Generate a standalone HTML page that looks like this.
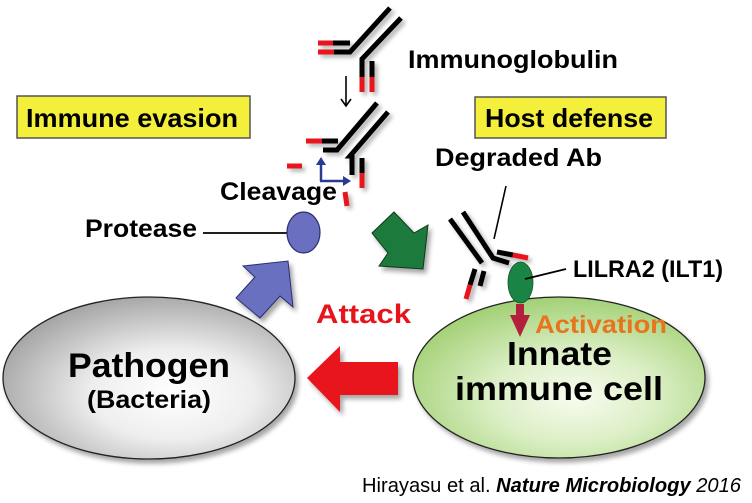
<!DOCTYPE html>
<html><head><meta charset="utf-8"><style>
html,body{margin:0;padding:0;background:#fff;width:752px;height:503px;overflow:hidden}
svg{display:block}
text{font-family:"Liberation Sans",Arial,sans-serif;font-weight:bold;fill:#000}
</style></head>
<body>
<svg width="752" height="503" viewBox="0 0 752 503" xmlns="http://www.w3.org/2000/svg">
<defs>
<filter id="sh" x="-20%" y="-20%" width="150%" height="150%"><feDropShadow dx="3" dy="4" stdDeviation="2.5" flood-color="#000" flood-opacity="0.35"/></filter>
<filter id="sh2" x="-30%" y="-30%" width="180%" height="180%"><feDropShadow dx="3" dy="3" stdDeviation="2" flood-color="#000" flood-opacity="0.3"/></filter>
<radialGradient id="gp" cx="0.58" cy="0.6" r="0.62"><stop offset="0" stop-color="#ffffff"/><stop offset="0.45" stop-color="#eeeeee"/><stop offset="1" stop-color="#a6a6a6"/></radialGradient>
<radialGradient id="gi" cx="0.55" cy="0.62" r="0.62"><stop offset="0" stop-color="#f8fcf0"/><stop offset="0.45" stop-color="#dcefc6"/><stop offset="1" stop-color="#a3d176"/></radialGradient>
</defs>

<!-- Boxes -->
<rect x="17" y="96" width="233" height="42" fill="#f3ef3b" stroke="#555" stroke-width="1.5"/>
<text x="26" y="127" font-size="26" textLength="212" lengthAdjust="spacingAndGlyphs">Immune evasion</text>
<rect x="475" y="97" width="191" height="41" fill="#f3ef3b" stroke="#555" stroke-width="1.5"/>
<text x="485" y="127" font-size="26" textLength="168" lengthAdjust="spacingAndGlyphs">Host defense</text>

<!-- Top antibody -->
<g filter="url(#sh2)" stroke-width="5" fill="none" stroke-linecap="butt">
  <line x1="318" y1="43" x2="333" y2="43" stroke="#e8141c"/>
  <line x1="333" y1="43" x2="350" y2="43" stroke="#000"/>
  <line x1="318" y1="52" x2="334" y2="52" stroke="#e8141c"/>
  <polyline points="334,52 350,52 390,8" stroke="#000"/>
  <polyline points="401,18 362,59 362,77" stroke="#000"/>
  <line x1="362" y1="77" x2="362" y2="92" stroke="#e8141c"/>
  <line x1="372" y1="61" x2="372" y2="77" stroke="#000"/>
  <line x1="372" y1="77" x2="372" y2="92" stroke="#e8141c"/>
</g>
<text x="408" y="68" font-size="25" textLength="210" lengthAdjust="spacingAndGlyphs">Immunoglobulin</text>

<!-- down arrow -->
<line x1="346" y1="76" x2="346" y2="105" stroke="#000" stroke-width="1.6"/>
<polyline points="341,99 346,106 351,99" fill="none" stroke="#000" stroke-width="1.6"/>

<!-- Cleaved antibody -->
<g filter="url(#sh2)" stroke-width="5" fill="none">
  <line x1="306" y1="141" x2="322" y2="141" stroke="#e8141c"/>
  <line x1="322" y1="141" x2="338" y2="141" stroke="#000"/>
  <polyline points="323,150 337,150 377,103" stroke="#000"/>
  <polyline points="388,112 350,156 352,156 352,175" stroke="#000"/>
  <line x1="362" y1="158" x2="362" y2="173" stroke="#000"/>
  <line x1="362" y1="173" x2="362" y2="188" stroke="#e8141c"/>
  <line x1="287" y1="166" x2="302" y2="166" stroke="#e8141c"/>
  <line x1="345" y1="192" x2="347" y2="206" stroke="#e8141c"/>
</g>
<!-- blue L arrows -->
<g stroke="#2b3990" stroke-width="2.5" fill="none">
  <line x1="321" y1="181" x2="321" y2="164"/>
  <line x1="320" y1="181" x2="344" y2="181"/>
</g>
<polygon points="316,165 326,165 321,157" fill="#2b3990"/>
<polygon points="343,176 343,186 351,181" fill="#2b3990"/>

<text x="220" y="200" font-size="25" textLength="117" lengthAdjust="spacingAndGlyphs">Cleavage</text>
<text x="85" y="237" font-size="25" textLength="112" lengthAdjust="spacingAndGlyphs">Protease</text>
<line x1="203" y1="233" x2="287" y2="233" stroke="#000" stroke-width="1.8"/>
<ellipse cx="303.5" cy="232.5" rx="16.5" ry="20.5" fill="#6a6fc0" stroke="#2a2e70" stroke-width="1.2"/>

<!-- Degraded Ab -->
<text x="435" y="166" font-size="25" textLength="167" lengthAdjust="spacingAndGlyphs">Degraded Ab</text>
<line x1="506" y1="186" x2="494" y2="239" stroke="#000" stroke-width="1.6"/>
<g filter="url(#sh2)" stroke-width="5" fill="none">
  <line x1="450" y1="219" x2="482" y2="263" stroke="#000"/>
  <polyline points="463,212 493,258 509,263" stroke="#000"/>
  <line x1="497" y1="252" x2="513" y2="255" stroke="#000"/>
  <line x1="513" y1="255" x2="528" y2="258" stroke="#e8141c"/>
  <line x1="475" y1="269" x2="470" y2="285" stroke="#000"/>
  <line x1="470" y1="285" x2="466" y2="299" stroke="#e8141c"/>
  <line x1="484" y1="271" x2="480" y2="286" stroke="#000"/>
</g>

<!-- arrows -->
<polygon points="243,266 288,261 293,307 280,296 260,318 236,298 255,277" fill="#6a6fc0" stroke="#2a2e70" stroke-width="1" filter="url(#sh)"/>
<polygon points="372,233 394,212 414,233 428,225 423,269 379,266 388,253" fill="#1c7a3c" stroke="#0b3a1a" stroke-width="1" filter="url(#sh)"/>
<polygon points="307,378 340,346 340,362 398,362 398,395 340,395 340,412" fill="#e8141c" filter="url(#sh)"/>

<text x="316" y="323" font-size="27" textLength="95" lengthAdjust="spacingAndGlyphs" style="fill:#e8141c">Attack</text>

<!-- Pathogen -->
<ellipse cx="149" cy="378" rx="146" ry="81" fill="url(#gp)" stroke="#222" stroke-width="1.3" filter="url(#sh)"/>
<text x="68" y="377" font-size="34" textLength="162" lengthAdjust="spacingAndGlyphs">Pathogen</text>
<text x="87" y="408" font-size="25" textLength="124" lengthAdjust="spacingAndGlyphs">(Bacteria)</text>

<!-- Innate immune cell -->
<ellipse cx="559" cy="377.5" rx="146" ry="80.5" fill="url(#gi)" stroke="#222" stroke-width="1.3" filter="url(#sh)"/>
<ellipse cx="520.5" cy="282.5" rx="12.5" ry="20.5" fill="#1a8445" stroke="#0e5a2c" stroke-width="0.8"/>
<line x1="525" y1="279" x2="566" y2="269" stroke="#000" stroke-width="1.8"/>
<text x="573" y="277" font-size="24" textLength="150" lengthAdjust="spacingAndGlyphs">LILRA2 (ILT1)</text>
<rect x="516" y="304" width="8" height="12" fill="#b3203c"/>
<polygon points="510,315 530,315 520,337" fill="#b3203c"/>
<text x="535" y="333" font-size="25" textLength="132" lengthAdjust="spacingAndGlyphs" style="fill:#e8741e">Activation</text>
<text x="507" y="365" font-size="33" textLength="105" lengthAdjust="spacingAndGlyphs">Innate</text>
<text x="455" y="400" font-size="33" textLength="208" lengthAdjust="spacingAndGlyphs">immune cell</text>

<!-- citation -->
<text x="362" y="492" font-size="20" textLength="379" lengthAdjust="spacingAndGlyphs" style="font-weight:normal">Hirayasu et al. <tspan style="font-weight:bold;font-style:italic">Nature Microbiology</tspan> <tspan style="font-style:italic">2016</tspan></text>
</svg>
</body></html>
